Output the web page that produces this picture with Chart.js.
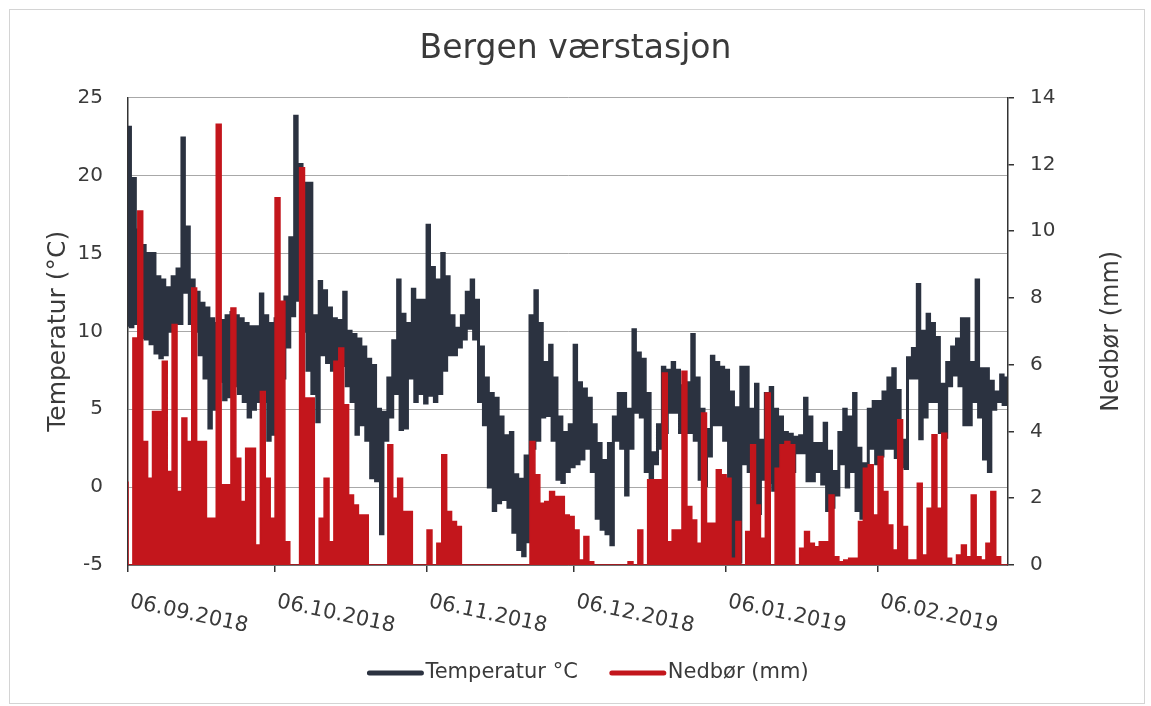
<!DOCTYPE html>
<html lang="no">
<head>
<meta charset="UTF-8">
<title>Bergen værstasjon</title>
<script src="https://cdn.jsdelivr.net/npm/chart.js"></script>
<style>
  html, body { margin: 0; padding: 0; background: #fff; }
  #wrap { position: relative; width: 1151px; height: 706px; }
</style>
</head>
<body>
<div id="wrap"><canvas id="weatherChart"></canvas></div>
<script>
// day 0 = 06.09.2018, one value per day
const tickDays = [0, 30, 61, 91, 122, 153];
const tickLabels = ['06.09.2018', '06.10.2018', '06.11.2018', '06.12.2018', '06.01.2019', '06.02.2019'];

// daily max / min temperature (°C)
const tempHigh = [
  23.1, 19.8, 16.5, 15.5, 15, 15, 13.5, 13.3, 12.8, 13.5,
  14, 22.4, 16.7, 13.3, 12.5, 11.8, 11.5, 10.8, 10.5, 10.7,
  11, 11.2, 11, 10.8, 10.5, 10.3, 10.3, 12.4, 11, 10.5,
  10.8, 11, 12.2, 16, 23.8, 20.7, 19.5, 19.5, 11, 13.2,
  12.6, 11.5, 10.8, 10.7, 12.5, 10, 9.8, 9.5, 9, 8.2,
  7.8, 5, 4.8, 7, 9.4, 13.3, 11.1, 10.5, 12.7, 12,
  12, 16.8, 14.1, 13.3, 15, 13.5, 11, 10.2, 11, 12.5,
  13.3, 12, 9, 7, 6, 5.7, 4.5, 3.3, 3.5, 0.8,
  0.5, 2, 11, 12.6, 10.5, 8, 9.1, 7, 4.5, 3.5,
  4, 9.1, 6.7, 6.3, 5.7, 4, 2.8, 1.7, 2.8, 4.5,
  6, 6, 5, 10.1, 8.6, 8.2, 6, 2.2, 4, 7.7,
  7.5, 8, 7.5, 6.5, 6.7, 9.8, 7, 5, 3.7, 8.4,
  8, 7.7, 7.5, 6.1, 5.1, 7.7, 7.7, 5, 6.6, 3,
  6, 6.4, 5, 4.5, 3.5, 3.4, 3.2, 3.3, 5.7, 4.5,
  2.8, 2.8, 4.1, 2.3, 1, 3.5, 5, 4.5, 6, 2.5,
  1.5, 5, 5.5, 5.5, 6.1, 7, 7.6, 6.2, 3, 8.3,
  8.9, 13, 10, 11.1, 10.5, 9.6, 6.6, 8, 9, 9.5,
  10.8, 10.8, 8, 13.3, 7.6, 7.6, 6.8, 6.1, 7.2, 7
];
const tempLow = [
  10.3, 10.3, 10.5, 9.6, 9.5, 9.2, 8.6, 8.3, 8.5, 10,
  10.5, 10.5, 12.5, 10.5, 10, 8.5, 7, 3.8, 5, 6.8,
  5.6, 5.8, 6.5, 6, 5.5, 4.5, 5, 5.5, 5.5, 3,
  3.4, 5, 7, 9, 11, 12, 10, 7.5, 6, 4.2,
  8.5, 8, 7.5, 8.1, 7.8, 6.5, 5.5, 3.4, 4, 3,
  0.6, 0.4, -3, 3, 4.5, 6, 3.7, 3.8, 7, 5.5,
  6, 5.4, 5.9, 5.5, 6, 7.5, 8.5, 8.5, 9, 9.5,
  10.2, 9.5, 5.5, 4, 0, -1.5, -1, -0.8, -1.3, -2.9,
  -4, -4.4, -3.5, 2.5, 3, 4.5, 4.6, 3, 0.5, 0.3,
  1, 1.3, 1.5, 1.8, 2.5, 1, -2, -2.7, -3, -3.7,
  3, 2.5, -0.5, 2.5, 4.8, 4.5, 1, 0.2, 1.5, 2.5,
  3.5, 4.8, 4.8, 3.5, 3.5, 3.5, 3, 0.5, 0.1, 2,
  4, 4, 3, -4.7, -4.7, -4.8, 1.5, 1, -1.5, -1.7,
  0.5, 0.3, -0.2, -1.8, 1.5, 0.8, 1, 2.2, 2.2, 0.4,
  0.4, 1, 0.2, -1.5, -1.3, -0.5, 1.5, 0, 1, -1.5,
  -2, 0, 2.5, 1.5, 2, 2.5, 2.5, 1.9, 1.3, 1.2,
  7, 7, 3.1, 4.5, 5.5, 5.5, 3.5, 3.2, 6.5, 7.2,
  6.5, 4, 4, 5.5, 4.5, 1.8, 1, 5, 5.5, 5.3
];
// daily precipitation (mm)
const precip = [
  2.5, 0, 6.8, 10.6, 3.7, 2.6, 4.6, 4.6, 6.1, 2.8,
  7.2, 2.2, 4.4, 3.7, 8.3, 3.7, 3.7, 1.4, 1.4, 13.2,
  2.4, 2.4, 7.7, 3.2, 1.9, 3.5, 3.5, 0.6, 5.2, 2.6,
  1.4, 11, 7.9, 0.7, 0, 0, 11.9, 5, 5, 0,
  1.4, 2.6, 0.7, 6.1, 6.5, 4.8, 2.1, 1.8, 1.5, 1.5,
  0, 0, 0, 0, 3.6, 2, 2.6, 1.6, 1.6, 0,
  0, 0, 1.05, 0, 0.65, 3.3, 1.6, 1.3, 1.15, 0,
  0, 0, 0, 0, 0, 0, 0, 0, 0, 0,
  0, 0, 0, 3.7, 2.7, 1.85, 1.9, 2.2, 2.05, 2.05,
  1.5, 1.45, 1.05, 0.15, 0.85, 0.1, 0, 0, 0, 0,
  0, 0, 0, 0.1, 0, 1.05, 0, 2.55, 2.55, 2.55,
  5.75, 0.7, 1.05, 1.05, 5.8, 1.75, 1.35, 0.65, 4.55, 1.25,
  1.25, 2.85, 2.7, 2.6, 0.2, 1.3, 0, 1.0, 3.6, 1.8,
  0.8, 5.15, 0, 2.9, 3.6, 3.7, 3.6, 0, 0.5, 1.0,
  0.65, 0.55, 0.7, 0.7, 2.1, 0.25, 0.1, 0.15, 0.2, 0.2,
  1.3, 2.9, 3.0, 1.5, 3.25, 2.2, 1.2, 0.45, 4.35, 1.15,
  0.15, 0.15, 2.45, 0.3, 1.7, 3.9, 1.7, 3.95, 0.2, 0,
  0.3, 0.6, 0.25, 2.1, 0.25, 0.15, 0.65, 2.2, 0.25, 0
];

const tempColor = '#2b3240';
const rainColor = '#c3161c';
const textColor = '#3a3a3a';

Chart.defaults.font.family = '"DejaVu Sans", Verdana, sans-serif';

// two points per day: low, then high half a day later
const tempPoints = [];
tempLow.forEach(function(lo, d) {
    tempPoints.push({x: d, y: lo});
    tempPoints.push({x: d + 0.5, y: tempHigh[d]});
});
const rainPoints = precip.map(function(v, d) {
    return {x: d, y: v};
});
rainPoints.push({x: precip.length, y: precip[precip.length - 1]});

// slanted date labels, right axis title, legend and frame
const extras = {
    id: 'extras',
    afterDraw: function(chart) {
        const ctx = chart.ctx;
        const xs = chart.scales.x;
        const ys = chart.scales.y2;
        const area = chart.chartArea;
        ctx.save();

        ctx.font = '21px "DejaVu Sans"';
        ctx.fillStyle = textColor;
        ctx.textAlign = 'left';
        ctx.textBaseline = 'alphabetic';
        tickDays.forEach(function(day, i) {
            const px = xs.getPixelForValue(day);
            ctx.save();
            ctx.translate(px + 1, area.bottom + 42);
            ctx.rotate(12 * Math.PI / 180);
            ctx.fillText(tickLabels[i], 0, 0);
            ctx.restore();
        });

        ctx.save();
        ctx.font = '24px "DejaVu Sans"';
        ctx.textAlign = 'center';
        ctx.textBaseline = 'middle';
        ctx.translate(ys.right - 39, (area.top + area.bottom) / 2);
        ctx.rotate(-Math.PI / 2);
        ctx.fillText('Nedbør (mm)', 0, 0);
        ctx.restore();

        // legend
        ctx.font = '21px "DejaVu Sans"';
        ctx.textBaseline = 'middle';
        const items = chart.data.datasets.map(function(ds) {
            return {text: ds.label, color: ds.borderColor, w: ctx.measureText(ds.label).width};
        });
        const lineLen = 52, gap = 4, itemGap = 34;
        let total = 0;
        items.forEach(function(it, i) {
            total += lineLen + gap + it.w + (i ? itemGap : 0);
        });
        let lx = 589 - total / 2;
        const ly = 673;
        items.forEach(function(it) {
            ctx.strokeStyle = it.color;
            ctx.lineWidth = 5;
            ctx.lineCap = 'round';
            ctx.beginPath();
            ctx.moveTo(lx, ly);
            ctx.lineTo(lx + lineLen, ly);
            ctx.stroke();
            ctx.fillStyle = textColor;
            ctx.fillText(it.text, lx + lineLen + gap, ly);
            lx += lineLen + gap + it.w + itemGap;
        });

        ctx.strokeStyle = '#d4d4d4';
        ctx.lineWidth = 1;
        ctx.strokeRect(9.5, 9.5, chart.width - 16, chart.height - 12);
        ctx.restore();
    }
};

new Chart(document.getElementById('weatherChart'), {
    type: 'line',
    data: {
        datasets: [{
            label: 'Temperatur °C',
            data: tempPoints,
            yAxisID: 'y',
            borderColor: tempColor,
            backgroundColor: tempColor,
            borderWidth: 3,
            stepped: 'after',
            pointRadius: 0,
            fill: false,
            order: 2
        }, {
            label: 'Nedbør (mm)',
            data: rainPoints,
            yAxisID: 'y2',
            borderColor: rainColor,
            backgroundColor: rainColor,
            borderWidth: 1.5,
            stepped: 'after',
            pointRadius: 0,
            fill: 'origin',
            order: 1
        }]
    },
    options: {
        responsive: true,
        maintainAspectRatio: false,
        animation: false,
        layout: { padding: 0 },
        plugins: {
            legend: { display: false },
            tooltip: { enabled: false },
            title: {
                display: true,
                text: 'Bergen værstasjon',
                color: textColor,
                font: { size: 33, weight: 'normal' },
                padding: { top: 30, bottom: 28 }
            }
        },
        scales: {
            x: {
                type: 'linear',
                min: 0,
                max: 179.5,
                afterBuildTicks: function(scale) {
                    scale.ticks = tickDays.map(function(v) { return {value: v}; });
                },
                ticks: { display: false },
                grid: { drawOnChartArea: false, drawTicks: true, tickLength: 7, color: '#333', lineWidth: 1.5 },
                border: { display: true, color: '#333', width: 1.5 },
                afterFit: function(scale) { scale.height = 141; }
            },
            y: {
                position: 'left',
                min: -5,
                max: 25,
                ticks: { stepSize: 5, padding: 25, color: textColor, font: { size: 20 } },
                grid: { color: '#a8a8a8', lineWidth: 1, drawTicks: false },
                border: { color: '#333', width: 1.5 },
                title: {
                    display: true,
                    text: 'Temperatur (°C)',
                    color: textColor,
                    font: { size: 25 },
                    padding: { top: 43, bottom: 0 }
                },
                afterFit: function(scale) { scale.width = 128; }
            },
            y2: {
                position: 'right',
                min: 0,
                max: 14,
                ticks: { stepSize: 2, padding: 16, color: textColor, font: { size: 20 } },
                grid: { drawOnChartArea: false, drawTicks: true, tickLength: 6, color: '#333', lineWidth: 1.5 },
                border: { color: '#333', width: 1.5 },
                afterFit: function(scale) { scale.width = 143; }
            }
        }
    },
    plugins: [extras]
});
</script>
</body>
</html>
